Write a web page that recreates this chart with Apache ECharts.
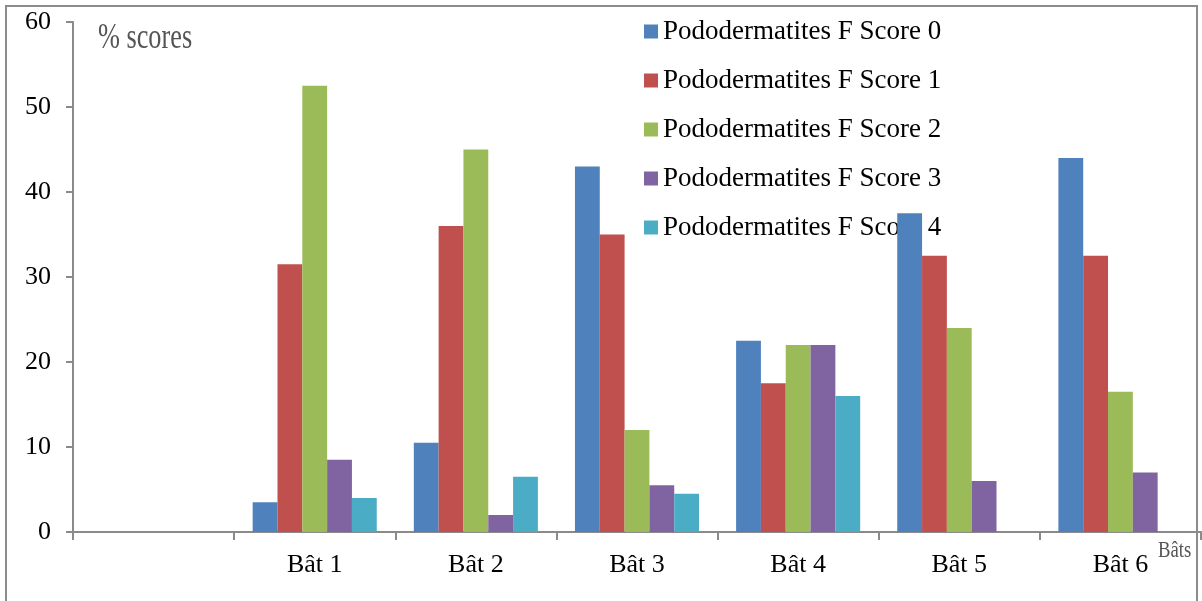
<!DOCTYPE html>
<html><head><meta charset="utf-8">
<script src="https://cdn.jsdelivr.net/npm/echarts@6/dist/echarts.min.js"></script>
<style>html,body{margin:0;padding:0;background:#fff}#c{width:1202px;height:601px}</style>
</head><body><div id="c"></div>
<script>
const categories = ['', 'Bât 1', 'Bât 2', 'Bât 3', 'Bât 4', 'Bât 5', 'Bât 6'];
const seriesNames = ['Pododermatites F Score 0','Pododermatites F Score 1','Pododermatites F Score 2','Pododermatites F Score 3','Pododermatites F Score 4'];
const score0 = [null, 3.5, 10.5, 43, 22.5, 37.5, 44];
const score1 = [null, 31.5, 36, 35, 17.5, 32.5, 32.5];
const score2 = [null, 52.5, 45, 12, 22, 24, 16.5];
const score3 = [null, 8.5, 2, 5.5, 22, 6, 7];
const score4 = [null, 4, 6.5, 4.5, 16, 0, 0];
const yTicks = {min: 0, max: 60, interval: 10};
const colors = ['#4F81BD','#C0504D','#9BBB59','#8064A2','#4BACC6'];
const allData = [score0, score1, score2, score3, score4];

const chart = echarts.init(document.getElementById('c'), null, {renderer: 'canvas'});
const serif = '"Liberation Serif", "Times New Roman", serif';
chart.setOption({
  animation: false,
  backgroundColor: '#fff',
  textStyle: {fontFamily: serif},
  grid: {left: 73, right: 1, top: 22, bottom: 69, containLabel: false},
  legend: {
    orient: 'vertical', left: 639, top: 13, z: 1,
    itemWidth: 14, itemHeight: 14, itemGap: 22, icon: 'rect',
    textStyle: {fontFamily: serif, fontSize: 27, color: '#000'},
    data: seriesNames
  },
  xAxis: {
    type: 'category', data: categories,
    axisLine: {lineStyle: {color: '#8a8a8a', width: 2}},
    axisTick: {show: true, length: 8, lineStyle: {color: '#8a8a8a', width: 2}},
    axisLabel: {fontFamily: serif, fontSize: 26, color: '#000', margin: 20}
  },
  yAxis: {
    type: 'value', min: yTicks.min, max: yTicks.max, interval: yTicks.interval,
    splitLine: {show: false},
    axisLine: {show: true, lineStyle: {color: '#8a8a8a', width: 2}},
    axisTick: {show: true, length: 7, lineStyle: {color: '#8a8a8a', width: 2}},
    axisLabel: {fontFamily: serif, fontSize: 26, color: '#000', margin: 22}
  },
  series: seriesNames.map((n, i) => ({
    name: n, type: 'bar', data: allData[i], z: 3,
    barGap: '0%', barCategoryGap: '23%',
    itemStyle: {color: colors[i], borderWidth: 0}
  })),
  graphic: [
    {type: 'rect', silent: true, shape: {x: 6, y: 6, width: 1191, height: 620}, style: {fill: null, stroke: '#8c8c8c', lineWidth: 2}, z: 0},
    {type: 'text', x: 98, y: 21, scaleX: 0.73, style: {text: '% scores', font: '36px ' + serif, fill: '#555'}},
    {type: 'text', x: 1158, y: 539, scaleX: 0.78, style: {text: 'Bâts', font: '24px ' + serif, fill: '#555'}}
  ]
});
</script></body></html>
